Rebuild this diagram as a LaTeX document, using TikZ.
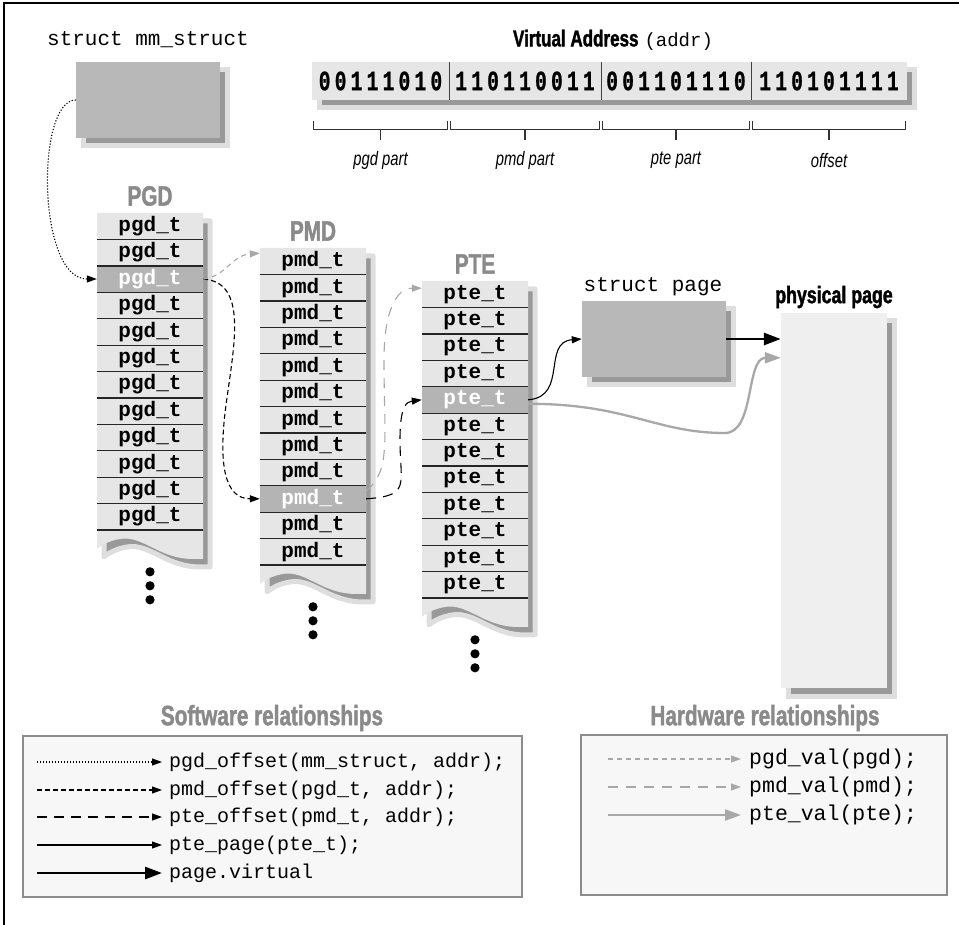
\documentclass[tikz,border=0pt]{standalone}
\usepackage{fontspec}
\setmainfont{Liberation Sans}
\setmonofont{Liberation Mono}
\newfontfamily\condfont[FakeStretch=0.76]{Liberation Sans}
\newfontfamily\headfont[FakeStretch=0.74,BoldFeatures={FakeBold=1.5}]{Liberation Sans}
\newfontfamily\bitfont[FakeStretch=0.7,LetterSpace=15,BoldFeatures={FakeBold=0.8}]{Liberation Mono}
\usetikzlibrary{arrows.meta,shadows}

\definecolor{rowgray}{HTML}{E6E6E6}
\definecolor{hlgray}{HTML}{B4B4B4}
\definecolor{boxgray}{HTML}{B8B8B8}
\definecolor{physgray}{HTML}{EFEFEF}
\definecolor{legfill}{HTML}{F7F7F7}
\definecolor{legborder}{HTML}{8C8C8C}
\definecolor{titlegray}{HTML}{8A8A8A}
\definecolor{linegray}{HTML}{A8A8A8}

% outline of one table with its torn bottom
\newcommand\tabshape{(\lx,\ty) -- (\rx,\ty) -- (\rx,\by+29) -- (\rx-15,\by+29)
  .. controls (\rx-45,\by+27) and (\lx+45,\by+6) .. (\lx+24,\by+9)
  .. controls (\lx+12,\by+11) and (\lx+5,\by+15) .. (\lx,\by+19) -- cycle}

\tikzset{
  ptrdot/.style={line width=1.1pt,dash pattern=on 1.2pt off 1.8pt,-{Triangle[length=10pt,width=7pt]}},
  ptrdash/.style={line width=1.1pt,dash pattern=on 5pt off 3pt,-{Triangle[length=10pt,width=7pt]}},
  ptrlong/.style={line width=1.1pt,dash pattern=on 10pt off 7pt,-{Triangle[length=10pt,width=7pt]}},
  ptrthin/.style={line width=1.1pt,-{Triangle[length=10pt,width=7pt]}},
  ptrthick/.style={line width=2.8pt,-{Triangle[length=17pt,width=12pt]}},
  hwdash/.style={draw=linegray,line width=1.1pt,dash pattern=on 5pt off 4pt,-{Triangle[length=10pt,width=7pt]}},
  hwlong/.style={draw=linegray,line width=1.1pt,dash pattern=on 10pt off 8pt,-{Triangle[length=10pt,width=7pt]}},
  hwsolid/.style={draw=linegray,line width=2.3pt,-{Triangle[length=16pt,width=11pt]}}
}

\begin{document}
\begin{tikzpicture}[x=1pt,y=-1pt,
  tabrow/.style={rectangle,fill=rowgray,minimum width=106pt,minimum height=26.4pt,inner sep=0pt,
    font=\ttfamily\bfseries\fontsize{21}{21}\selectfont},
  hlrow/.style={tabrow,fill=hlgray,text=white},
  rowline/.style={draw=black!85,line width=1.3pt},
  tabtitle/.style={text=titlegray,font=\headfont\bfseries\fontsize{28}{28}\selectfont},
  tshade/.style={fill=black!40,draw=black!13,line width=5pt,line join=round},
  shadowed/.style={drop shadow={shadow xshift=7pt,shadow yshift=-8pt,opacity=1,
    fill=black!40,draw=black!13,line width=5pt}},
  graybox/.style={rectangle,fill=boxgray,minimum width=144pt,minimum height=76pt,inner sep=0pt,shadowed},
  physbox/.style={rectangle,fill=physgray,minimum width=106pt,minimum height=375pt,inner sep=0pt,shadowed},
  lbltext/.style={font=\ttfamily\fontsize{21}{21}\selectfont},
  bitbar/.style={rectangle,fill=rowgray,minimum width=595pt,minimum height=38pt,inner sep=0pt},
  bitseg/.style={inner sep=0pt,minimum height=38pt,font=\bitfont\bfseries\fontsize{28}{28}\selectfont},
  segline/.style={draw=black!75,line width=1.3pt},
  bracket/.style={draw=black!80,line width=1.2pt},
  parttext/.style={font=\condfont\itshape\fontsize{19.5}{20}\selectfont},
  legendbox/.style={rectangle,fill=legfill,draw=legborder,line width=2pt,inner sep=0pt},
  legtitle/.style={text=titlegray,font=\headfont\bfseries\fontsize{28}{28}\selectfont},
  swcode/.style={anchor=west,inner sep=7pt,font=\ttfamily\fontsize{20}{20}\selectfont},
  hwcode/.style={anchor=west,inner sep=8pt,font=\ttfamily\fontsize{21.5}{21.5}\selectfont}
]
\useasboundingbox (0,0) rectangle (959,925);
\draw[line width=1.3pt] (4,925) -- (4,3) -- (959,3);

% mm_struct
\node[lbltext] (mmname) at (148,40) {struct mm\_struct};
\node[graybox] (mm) at (148,100) {};

% Virtual address bar
\node (vaddr) at (613,40) {{\headfont\bfseries\fontsize{23}{23}\selectfont Virtual Address}\hspace{6pt}{\ttfamily\fontsize{19}{22}\selectfont(addr)}};
\node[bitbar,shadowed] (addr) at (609.5,81) {};
\foreach \bits/\lx/\rx/\lbl [count=\k] in {00111010/312/449/pgd part, 110110011/449/601/pmd part,
    001101110/601/751/pte part, 110101111/751/907/offset}{
  \node[bitseg,minimum width=\rx-\lx] (seg-\k) at ({(\lx+\rx)/2},81) {\bits};
  \draw[bracket] ([shift={(2,21)}]seg-\k.south west) |- ([shift={(-2,29)}]seg-\k.south east)
    -- ([shift={(-2,21)}]seg-\k.south east);
  \draw[bracket] ([yshift=-29pt]seg-\k.south) -- ([yshift=-40pt]seg-\k.south);
  \node[parttext] (part-\k) at ([yshift=-60pt]seg-\k.south) {\lbl};
}
\foreach \k in {1,2,3}
  \draw[segline] (seg-\k.north east) -- (seg-\k.south east);

% The three tables
\foreach \tb/\lx/\ty/\hl/\ttl in {pgd/97/213/3/PGD, pmd/260/248/10/PMD, pte/422/281/5/PTE}{
  \pgfmathsetmacro\rx{\lx+106}
  \pgfmathsetmacro\by{\ty+12*26.4}
  \fill[tshade,shift={(7,8)}] \tabshape;
  \fill[rowgray] \tabshape;
  \node[tabtitle] (\tb-title) at (\lx+53,\ty-17) {\ttl};
  \foreach \i in {1,...,12}{
    \ifnum\i=\hl\relax \def\rs{hlrow}\else\def\rs{tabrow}\fi
    \node[\rs] (\tb-\i) at (\lx+53,\ty+26.4*\i-13.2) {\tb\_t};
  }
  \foreach \i in {1,...,12}
    \draw[rowline] (\tb-\i.south west) -- (\tb-\i.south east);
  \foreach \d in {42,56,70}
    \fill (\lx+53,\by+\d) circle (4.6pt);
}

% struct page and physical page
\node[lbltext] (pagename) at (653,287) {struct page};
\node[graybox] (page) at (654,339) {};
\node[font=\headfont\bfseries\fontsize{24}{24}\selectfont] (physname) at (834,297) {physical page};
\node[physbox] (phys) at (834,500.5) {};

% Software walk
\draw[ptrdot] (mm.west) .. controls +(-40,0) and +(-60,0) .. (pgd-3.west);
\draw[ptrdash] (pgd-3.east) .. controls +(45,3) and +(8,-60) .. (226,405)
  .. controls +(-8,60) and +(-35,0) .. (pmd-10.west);
\draw[ptrlong] (pmd-10.east) .. controls +(45,-3) and +(0,45) .. (400,440)
  .. controls +(0,-35) and +(-15,2) .. (pte-5.west);
\draw[ptrthin] (pte-5.east) .. controls +(40,-3) and +(-40,3) .. (page.west);
\draw[ptrthick] (page.east) -- (page.east -| phys.west);

% Hardware walk
\draw[hwdash] (pgd-3.east) .. controls +(22,-2) and +(-28,2) .. ([yshift=8pt]pmd-1.west);
\draw[hwlong] ([yshift=8pt]pmd-10.east) .. controls +(25,-20) and +(0,80) .. (384,360)
  .. controls +(0,-50) and +(-25,0) .. ([yshift=6pt]pte-1.west);
\draw[hwsolid] ([yshift=-4pt]pte-5.east) .. controls +(100,0) and +(-70,0) .. (725,433)
  .. controls +(30,0) and +(-35,0) .. ([yshift=-45pt]phys.north west);

% Legends
\node[legendbox,minimum width=499pt,minimum height=161pt] (swbox) at (272.5,816.5) {};
\node[legtitle] (swtitle) at (272,718) {Software relationships};
\node[swcode] (sw-1) at (162,762) {pgd\_offset(mm\_struct, addr);};
\node[swcode] (sw-2) at (162,790) {pmd\_offset(pgd\_t, addr);};
\node[swcode] (sw-3) at (162,817) {pte\_offset(pmd\_t, addr);};
\node[swcode] (sw-4) at (162,845) {pte\_page(pte\_t);};
\node[swcode] (sw-5) at (162,873) {page.virtual};
\draw[ptrdot] ([xshift=-125pt]sw-1.west) -- (sw-1.west);
\draw[ptrdash] ([xshift=-125pt]sw-2.west) -- (sw-2.west);
\draw[ptrlong] ([xshift=-125pt]sw-3.west) -- (sw-3.west);
\draw[ptrthin] ([xshift=-125pt]sw-4.west) -- (sw-4.west);
\draw[ptrthick] ([xshift=-125pt]sw-5.west) -- (sw-5.west);

\node[legendbox,minimum width=366pt,minimum height=160pt] (hwbox) at (764,815) {};
\node[legtitle] (hwtitle) at (765,718) {Hardware relationships};
\node[hwcode] (hw-1) at (741,759) {pgd\_val(pgd);};
\node[hwcode] (hw-2) at (741,787) {pmd\_val(pmd);};
\node[hwcode] (hw-3) at (741,815) {pte\_val(pte);};
\draw[hwdash] ([xshift=-133pt]hw-1.west) -- (hw-1.west);
\draw[hwlong] ([xshift=-133pt]hw-2.west) -- (hw-2.west);
\draw[hwsolid] ([xshift=-133pt]hw-3.west) -- (hw-3.west);
\end{tikzpicture}
\end{document}
